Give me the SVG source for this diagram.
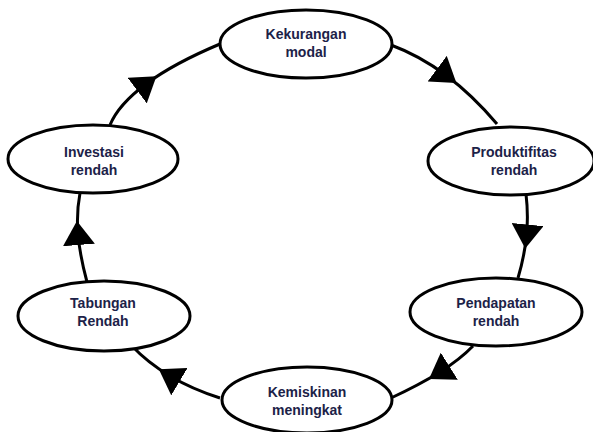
<svg xmlns="http://www.w3.org/2000/svg" width="593" height="432" viewBox="0 0 593 432">
  <style>
    .node ellipse { fill: #ffffff; stroke: #000000; stroke-width: 3; }
    .node text { font-family: "Liberation Sans", Arial, sans-serif; font-weight: bold; font-size: 14px; fill: #1c2248; text-anchor: middle; }
    #connectors path { fill: none; stroke: #000000; stroke-width: 3; marker-mid: url(#tri); }
  </style>
  <defs>
    <marker id="tri" viewBox="0 0 24 32" refX="11" refY="16" markerWidth="24" markerHeight="32" markerUnits="userSpaceOnUse" orient="auto">
      <path d="M0,0 L24,16 L0,32 z" fill="#000000"/>
    </marker>
  </defs>
  <rect width="593" height="432" fill="#ffffff"/>

  <g id="connectors">
    <!-- Kekurangan modal -> Produktifitas rendah -->
    <path d="M391,45 Q419.5,55.5 446,75.25 Q472.5,95 497,124"/>
    <!-- Produktifitas rendah -> Pendapatan rendah -->
    <path d="M526,194 Q528.5,215 526.5,235.5 Q524.5,256 518,278"/>
    <!-- Pendapatan rendah -> Kemiskinan meningkat -->
    <path d="M473,346 Q460.5,359 440,372 Q419.5,384.75 391,398"/>
    <!-- Kemiskinan meningkat -> Tabungan Rendah -->
    <path d="M220,398 Q192.25,389.25 170,376 Q147.75,362.75 131,345"/>
    <!-- Tabungan Rendah -> Investasi rendah -->
    <path d="M87,282 Q79.75,255 78,234 Q76.25,213 80,193"/>
    <!-- Investasi rendah -> Kekurangan modal -->
    <path d="M110,125 Q118.5,104.5 146,84 Q173.5,63.5 220,44"/>
  </g>

  <g id="kekurangan-modal" class="node">
    <ellipse cx="306" cy="44" rx="86" ry="34"/>
    <text x="306" y="39">Kekurangan</text>
    <text x="306" y="57">modal</text>
  </g>

  <g id="produktifitas-rendah" class="node">
    <ellipse cx="511" cy="161" rx="83" ry="34"/>
    <text x="514" y="157">Produktifitas</text>
    <text x="514" y="175">rendah</text>
  </g>

  <g id="pendapatan-rendah" class="node">
    <ellipse cx="496" cy="312" rx="86" ry="34"/>
    <text x="496" y="308">Pendapatan</text>
    <text x="496" y="326">rendah</text>
  </g>

  <g id="kemiskinan-meningkat" class="node">
    <ellipse cx="307" cy="400" rx="85" ry="33"/>
    <text x="307" y="397">Kemiskinan</text>
    <text x="307" y="415">meningkat</text>
  </g>

  <g id="tabungan-rendah" class="node">
    <ellipse cx="104" cy="316" rx="86" ry="35"/>
    <text x="103" y="308">Tabungan</text>
    <text x="103" y="326">Rendah</text>
  </g>

  <g id="investasi-rendah" class="node">
    <ellipse cx="93" cy="159" rx="85" ry="34"/>
    <text x="94" y="157">Investasi</text>
    <text x="94" y="175">rendah</text>
  </g>
</svg>
